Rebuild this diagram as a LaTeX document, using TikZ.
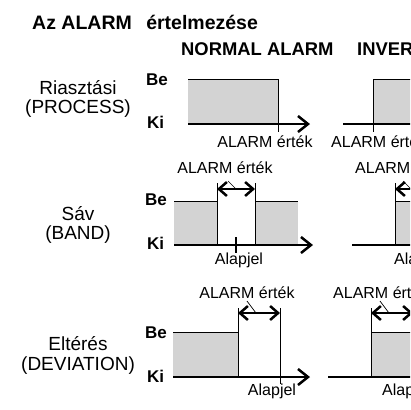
\documentclass[tikz,border=0pt]{standalone}
\usepackage{fontspec}
\setmainfont{Liberation Sans}
\usetikzlibrary{arrows.meta}
\definecolor{boxgrey}{HTML}{D3D3D3}
\tikzset{
  axisl/.style={line width=2.1pt},
  axisarrow/.style={line width=2.1pt,-{Straight Barb[length=10pt,width=16pt,line width=2.5pt]}},
  thinl/.style={line width=1pt},
  leader/.style={line width=0.7pt},
  dbl/.style={line width=2.1pt,{Straight Barb[length=8pt,width=14pt,line width=2.5pt]}-{Straight Barb[length=8pt,width=14pt,line width=2.5pt]}},
  rowlbl/.style={font=\fontsize{19}{21}\selectfont,inner sep=0pt,anchor=base},
  val/.style={font=\fontsize{16}{18}\selectfont,inner sep=0pt},
  bk/.style={font=\bfseries\fontsize{17}{19}\selectfont,inner sep=0pt,anchor=base west},
  head/.style={font=\bfseries\fontsize{18.4}{20}\selectfont,inner sep=0pt,anchor=base west},
}
\begin{document}
\begin{tikzpicture}[x=1pt,y=-1pt]
\useasboundingbox (0,0) rectangle (410,410);
\clip (0,0) rectangle (410,410);
\fill[white] (0,0) rectangle (410,410);
% headings
\node[head,font=\bfseries\fontsize{19.5}{21}\selectfont] (title) at (32,29) {Az ALARM\hspace{9pt} értelmezése};
\node[head] (hn) at (181,55) {NORMAL ALARM};
\node[head] (hi) at (357,55) {INVERSE ALARM};
% row labels
\node[rowlbl] (r1a) at (78,94) {Riasztási};
\node[rowlbl] (r1b) at (78,113) {(PROCESS)};
\node[rowlbl] (r2a) at (78,220) {Sáv};
\node[rowlbl] (r2b) at (78,239) {(BAND)};
\node[rowlbl] (r3a) at (78,350) {Eltérés};
\node[rowlbl] (r3b) at (78,370) {(DEVIATION)};
% Be / Ki
\node[bk] (be1) at (146,85) {Be};
\node[bk] (ki1) at (147,128) {Ki};
\node[bk] (be2) at (145,205) {Be};
\node[bk] (ki2) at (147,249) {Ki};
\node[bk] (be3) at (145,338) {Be};
\node[bk] (ki3) at (147,382) {Ki};

% ---------- Row 1 normal
\fill[boxgrey] (188,79) rectangle (278,124);
\draw[thinl] (188,79) -- (278,79) -- (278,132);
\draw[axisarrow] (188,124) -- (310,124);
\node[val,anchor=base] (v1n) at (265,147) {ALARM érték};
% ---------- Row 1 inverse
\fill[boxgrey] (373,79) rectangle (420,124);
\draw[thinl] (420,79) -- (373,79) -- (373,132);
\draw[axisl] (343,124) -- (420,124);
\node[val,anchor=base west] (v1i) at (331,147) {ALARM érték};

% ---------- Row 2 normal
\fill[boxgrey] (174,201) rectangle (217,245);
\fill[boxgrey] (255,201) rectangle (298,245);
\draw[thinl] (174,201) -- (217,201) (217,183) -- (217,245)
             (255,183) -- (255,245) (255,201) -- (298,201);
\draw[dbl] (217,189) -- (255,189);
\node[val,anchor=base] (v2n) at (225,173) {ALARM érték};
\draw[leader] (228,181) -- (236,189);
\draw[axisarrow] (174,245) -- (313,245);
\draw[axisl] (236,237) -- (236,253);
\node[val,anchor=base] (a2n) at (239,264) {Alapjel};
% ---------- Row 2 inverse
\fill[boxgrey] (395,201) rectangle (420,245);
\draw[thinl] (395,183) -- (395,245) (395,201) -- (420,201);
\draw[dbl] (395,189) -- (433,189);
\node[val,anchor=base west] (v2i) at (355,173) {ALARM érték};
\draw[leader] (403,181) -- (411,189);
\draw[axisl] (352,245) -- (420,245);
\node[val,anchor=base west] (a2i) at (394,264) {Alapjel};

% ---------- Row 3 normal
\fill[boxgrey] (173,332) rectangle (238,377);
\draw[thinl] (173,332) -- (238,332) (238,308) -- (238,377)
             (280,308) -- (280,384);
\draw[dbl] (238,313) -- (280,313);
\node[val,anchor=base] (v3n) at (247,298) {ALARM érték};
\draw[leader] (247,301) -- (256,313);
\draw[axisarrow] (173,377) -- (310,377);
\node[val,anchor=base] (a3n) at (272,395) {Alapjel};
% ---------- Row 3 inverse
\fill[boxgrey] (371,332) rectangle (420,377);
\draw[thinl] (371,308) -- (371,377) (371,332) -- (420,332);
\draw[dbl] (371,313) -- (413,313);
\node[val,anchor=base west] (v3i) at (333,298) {ALARM érték};
\draw[leader] (380,301) -- (389,313);
\draw[axisl] (328,377) -- (420,377);
\node[val,anchor=base west] (a3i) at (382,395) {Alapjel};
\end{tikzpicture}
\end{document}
